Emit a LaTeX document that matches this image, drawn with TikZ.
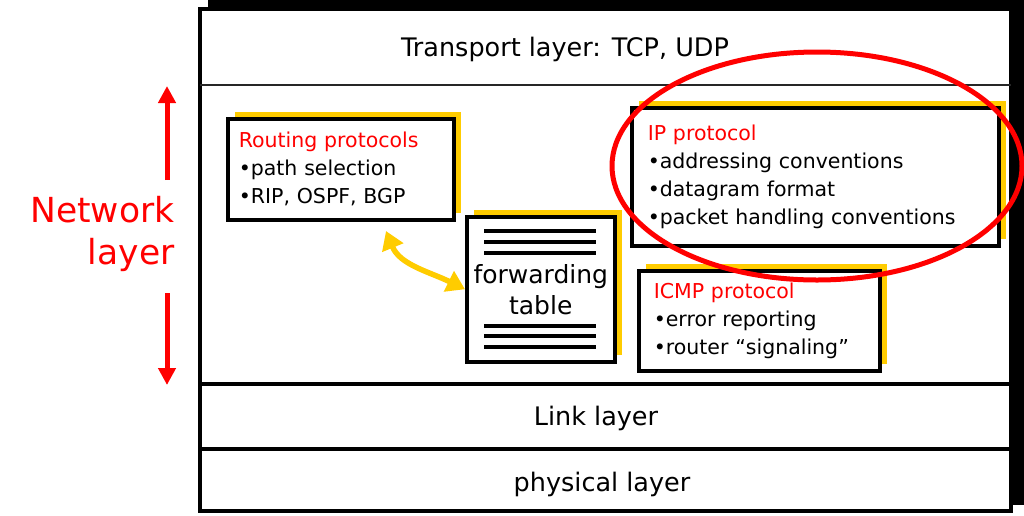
\documentclass[tikz,border=0pt]{standalone}
\usepackage{fontspec}
\setmainfont{DejaVu Sans}
\usetikzlibrary{arrows.meta,shadows}
\definecolor{cred}{HTML}{FF0000}
\definecolor{cyel}{HTML}{FFCC00}
\tikzset{
  protobox/.style={draw=black, line width=3.5pt, fill=white, anchor=north west, align=left,
    inner ysep=0pt,
    copy shadow={shadow xshift=7pt, shadow yshift=7pt, fill=cyel, draw=none},
    font=\fontsize{20.5}{28}\selectfont},
  layertext/.style={font=\fontsize{25.5}{28}\selectfont},
  redarrow/.style={cred, line width=5pt, -{Triangle[width=17pt,length=17pt]}},
  yelarrow/.style={cyel, line width=5.5pt, {Triangle[width=22pt,length=18pt]}-{Triangle[width=22pt,length=18pt]}},
  tline/.style={line width=3.5pt, black},
}
\begin{document}
\begin{tikzpicture}[x=1pt,y=-1pt]
\useasboundingbox (0,0) rectangle (1024,515);
% main frame with black shadow
\fill[black] (208,0) rectangle (1024,505);
\filldraw[fill=white, draw=black, line width=3.5pt] (200,9) rectangle (1011,511);
\draw[line width=2pt, black!85] (200,85) -- (1011,85);
\draw[line width=3.5pt] (200,384) -- (1011,384);
\draw[line width=3.5pt] (200,449) -- (1011,449);
% layer labels
\node[layertext] (tl) at (565,49) {Transport layer: TCP, UDP};
\node[layertext] (ll) at (596,418) {Link layer};
\node[layertext] (pl) at (602,484) {physical layer};
% boxes
\node[protobox, inner xsep=11pt, text width=204pt, minimum height=101pt] (rp) at (226,117)
  {\textcolor{cred}{Routing protocols}\\•path selection\\•RIP, OSPF, BGP};
\node[protobox, inner xsep=16pt, text width=335pt, minimum height=138pt] (ip) at (630,106)
  {\textcolor{cred}{IP protocol}\\•addressing conventions\\•datagram format\\•packet handling conventions};
\node[protobox, inner xsep=15pt, text width=211pt, minimum height=100pt] (icmp) at (637,269)
  {\textcolor{cred}{ICMP protocol}\\•error reporting\\•router “signaling”};
\node[protobox, align=center, inner xsep=0pt, text width=148pt, minimum height=145pt,
  font=\fontsize{25}{31}\selectfont] (ft) at (465,215) {forwarding\\table};
% table lines
\foreach \dy in {16,27,38}{
  \draw[tline] ([shift={(19,\dy)}]ft.north west) -- ([shift={(131,\dy)}]ft.north west);
}
\foreach \dy in {111,121,132}{
  \draw[tline] ([shift={(19,\dy)}]ft.north west) -- ([shift={(131,\dy)}]ft.north west);
}
% yellow double arrow
\coordinate (ya) at (386,231);
\draw[yelarrow] (ya) .. controls (400,265) and (430,272) .. (ft.west);
% network layer label and arrows
\node[cred, font=\fontsize{34.5}{42}\selectfont, align=right, anchor=east] (nl) at (178,234) {Network\\layer};
\coordinate (nu1) at (167,180);
\coordinate (nu2) at (167,86);
\coordinate (nd1) at (167,293);
\coordinate (nd2) at (167,385);
\draw[redarrow] (nu1) -- (nu2);
\draw[redarrow] (nd1) -- (nd2);
% red ellipse
\draw[cred, line width=5pt] (817,166) ellipse [x radius=205, y radius=114];
\end{tikzpicture}
\end{document}
